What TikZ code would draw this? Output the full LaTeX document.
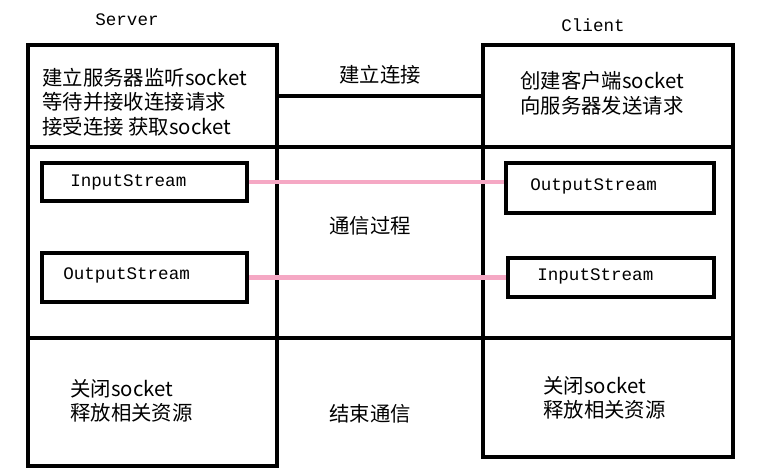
\documentclass[tikz,border=0pt]{standalone}
\usepackage{fontspec}
\setmonofont{Liberation Mono}
\newfontfamily\cjk{Noto Sans CJK SC}
\usetikzlibrary{fit}
\definecolor{pinkline}{RGB}{245,168,196}
\tikzset{
	cell/.style={draw,line width=2.2pt,inner sep=0pt},
	band/.style={draw,line width=1.8pt,inner sep=0pt},
	link/.style={line width=2.2pt},
	pipe/.style={line width=2.4pt,pinkline},
	txt/.style={anchor=west,align=left,inner sep=0pt,font=\cjk\fontsize{11.6}{14}\selectfont},
	mid/.style={inner sep=0pt,font=\cjk\fontsize{11.6}{14}\selectfont},
	lbl/.style={anchor=west,inner sep=0pt,font=\ttfamily\fontsize{10}{12}\selectfont}
}

\begin{document}
\begin{tikzpicture}[x=0.02cm,y=-0.02cm]
		\useasboundingbox (0,0) rectangle (763,476);
		\path (127,20) node(server)[inner sep=0pt,font=\ttfamily\fontsize{10}{12}\selectfont]{Server}
		(593,25) node(client)[inner sep=0pt,font=\ttfamily\fontsize{10}{12}\selectfont]{Client};
		\node(srvmid)[band,fit={(28,147)(277,338)}]{};
		\node(midmid)[band,fit={(277,147)(483,338)}]{};
		\node(climid)[band,fit={(483,147)(733,338)}]{};
		\node(srvtop)[cell,fit={(28,45)(277,147)}]{};
		\node(clitop)[cell,fit={(483,45)(733,147)}]{};
		\node(srvbot)[cell,fit={(28,338)(277,466)}]{};
		\node(clibot)[cell,fit={(483,338)(733,457)}]{};
		\node(sin)[cell,fit={(42,163)(247,201)}]{};
		\node(sout)[cell,fit={(42,253)(247,302)}]{};
		\node(cout)[cell,fit={(506,163)(714,213)}]{};
		\node(cin)[cell,fit={(508,258)(714,297)}]{};
		\path (42,102) node(srvopen)[txt]{建立服务器监听socket\\等待并接收连接请求\\接受连接\ 获取socket}
		(520,93) node(cliopen)[txt]{创建客户端socket\\向服务器发送请求}
		(70,401) node(srvclose)[txt]{关闭socket\\释放相关资源}
		(543,398) node(cliclose)[txt]{关闭socket\\释放相关资源}
		(380,75) node(connect)[mid]{建立连接}
		(370,226) node(talk)[mid]{通信过程}
		(370,414) node(finish)[mid]{结束通信}
		(70,182) node(sinlbl)[lbl]{InputStream}
		(63,275) node(soutlbl)[lbl]{OutputStream}
		(530,186) node(coutlbl)[lbl]{OutputStream}
		(537,276) node(cinlbl)[lbl]{InputStream};
		\draw [link] (srvtop) -- (clitop);
		\draw [pipe] (sin.east) -- (sin.east -| cout.west);
		\draw [pipe] (sout.east) -- (sout.east -| cin.west);
	\end{tikzpicture}
\end{document}
